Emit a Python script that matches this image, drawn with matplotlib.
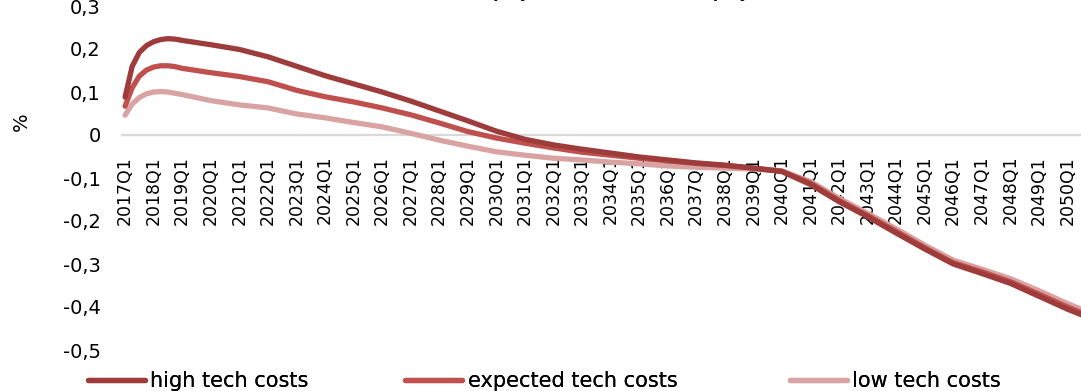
import numpy as np
import matplotlib
matplotlib.use("Agg")
import matplotlib.pyplot as plt

# quarter index, 0 = 2017Q1
quarters = [0, 1, 2, 3, 4, 5, 6, 7, 8, 12, 16, 20, 24, 28, 32, 36, 40, 44, 48,
            52, 56, 60, 64, 68, 72, 76, 80, 84, 88, 92, 96, 100, 104, 108, 112,
            116, 120, 124, 128, 132, 135]

high_tech = [0.088, 0.160, 0.192, 0.208, 0.217, 0.222, 0.224, 0.223, 0.220,
             0.210, 0.199, 0.182, 0.160, 0.138, 0.119, 0.100, 0.079, 0.056,
             0.033, 0.009, -0.010, -0.023, -0.033, -0.042, -0.051, -0.058,
             -0.065, -0.070, -0.077, -0.085, -0.115, -0.155, -0.190, -0.228,
             -0.265, -0.300, -0.322, -0.345, -0.375, -0.405, -0.425]

expected_tech = [0.067, 0.110, 0.137, 0.151, 0.158, 0.161, 0.161, 0.159, 0.155,
                 0.145, 0.136, 0.124, 0.104, 0.089, 0.077, 0.063, 0.047, 0.028,
                 0.008, -0.007, -0.019, -0.030, -0.040, -0.047, -0.054, -0.060,
                 -0.066, -0.071, -0.077, -0.084, -0.112, -0.152, -0.187, -0.224,
                 -0.262, -0.297, -0.318, -0.341, -0.370, -0.400, -0.420]

low_tech = [0.046, 0.072, 0.087, 0.096, 0.100, 0.101, 0.100, 0.097, 0.094,
            0.080, 0.070, 0.063, 0.049, 0.040, 0.029, 0.019, 0.004, -0.012,
            -0.026, -0.039, -0.047, -0.054, -0.058, -0.063, -0.067, -0.072,
            -0.075, -0.077, -0.079, -0.084, -0.108, -0.147, -0.182, -0.218,
            -0.256, -0.291, -0.312, -0.334, -0.362, -0.392, -0.412]

tick_labels = [f"{y}Q1" for y in range(2017, 2051)]
y_ticks = [0.3, 0.2, 0.1, 0.0, -0.1, -0.2, -0.3, -0.4, -0.5]

series = [
    ("high tech costs", high_tech, "#9E3B3B"),
    ("expected tech costs", expected_tech, "#C0504D"),
    ("low tech costs", low_tech, "#D9A3A3"),
]
legend_x = [88, 405, 790]


def fmt_tick(v):
    if abs(v) < 1e-9:
        return "0"
    return ("%.1f" % v).replace(".", ",")


W, H = 1081, 391
fig = plt.figure(figsize=(W / 100, H / 100), dpi=100)
ax = fig.add_axes([121.5 / W, 41 / H, 1 - 121.5 / W, 344 / H])

lines = {}
for name, vals, color in series[::-1]:
    lines[name], = ax.plot(quarters, vals, color=color, lw=3.8, label=name,
                           solid_capstyle="round", solid_joinstyle="round")

ax.set_xlim(-0.5, 133.9)
ax.set_ylim(-0.5, 0.3)

for side in ("top", "right", "left"):
    ax.spines[side].set_visible(False)
ax.spines["bottom"].set_position(("data", 0))
ax.spines["bottom"].set_color("#D9D9D9")
ax.spines["bottom"].set_linewidth(1.6)
ax.spines["bottom"].set_zorder(0)

ax.set_xticks(range(0, 133, 4))
ax.set_xticklabels(tick_labels, rotation=90, fontsize=12.5)
ax.tick_params(axis="x", length=0, pad=15)

ax.set_yticks(y_ticks)
ax.set_yticklabels([fmt_tick(v) for v in y_ticks], fontsize=14)
ax.tick_params(axis="y", length=0, pad=15)

fig.text(21 / W, 1 - 122 / H, "%", rotation=90, fontsize=14,
         ha="center", va="center")

# chart title sits mostly above the visible area
fig.text(467 / W, 1 + 2 / H, "employment vs. baseline employment",
         fontsize=11, fontweight="bold", ha="left", va="baseline")

# one legend entry per column, placed along the bottom edge
for (name, _, _), x0 in zip(series, legend_x):
    leg = fig.legend([lines[name]], [name], loc="center left",
                     bbox_to_anchor=(x0 / W, 10 / H), frameon=False,
                     fontsize=15, handlelength=2.75, handletextpad=0.25,
                     borderpad=0, borderaxespad=0)
    fig.add_artist(leg)

fig.savefig("out.png", dpi=100)
